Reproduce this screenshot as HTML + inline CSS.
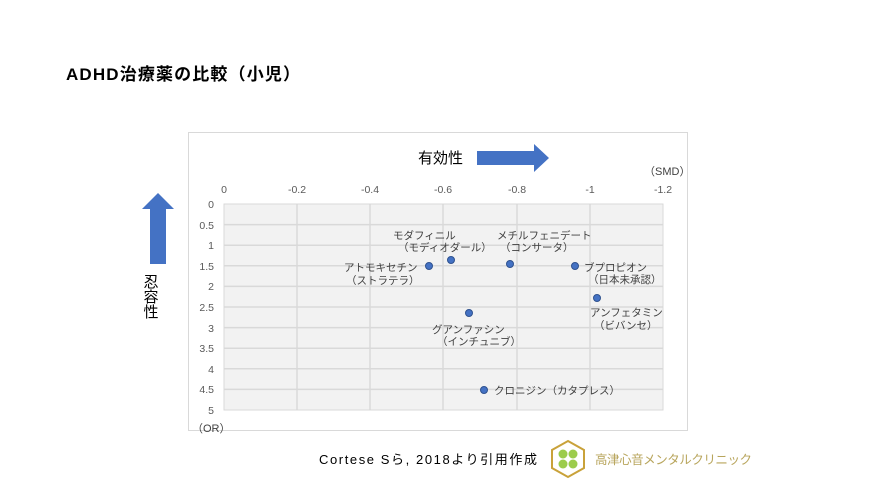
<!DOCTYPE html>
<html><head><meta charset="utf-8"><style>
body{margin:0;background:#fff;width:886px;height:498px;overflow:hidden}
svg text{font-family:"Liberation Sans","Noto Sans CJK JP",sans-serif}
</style></head><body>
<svg width="886" height="498" xmlns="http://www.w3.org/2000/svg">
<text x="66" y="80" font-size="17" font-weight="bold" fill="#000" textLength="234">ADHD治療薬の比較（小児）</text>
<rect x="188.5" y="132.5" width="499" height="298" fill="#fff" stroke="#d9d9d9"/>
<rect x="224" y="204" width="439" height="206" fill="#f2f2f2" stroke="#d9d9d9"/>
<g stroke="#d9d9d9" stroke-width="1.5">
<line x1="297" y1="204" x2="297" y2="410"/><line x1="370" y1="204" x2="370" y2="410"/>
<line x1="443" y1="204" x2="443" y2="410"/><line x1="517" y1="204" x2="517" y2="410"/>
<line x1="590" y1="204" x2="590" y2="410"/>
<line x1="224" y1="224.6" x2="663" y2="224.6"/><line x1="224" y1="245.2" x2="663" y2="245.2"/>
<line x1="224" y1="265.8" x2="663" y2="265.8"/><line x1="224" y1="286.4" x2="663" y2="286.4"/>
<line x1="224" y1="307" x2="663" y2="307"/><line x1="224" y1="327.6" x2="663" y2="327.6"/>
<line x1="224" y1="348.2" x2="663" y2="348.2"/><line x1="224" y1="368.8" x2="663" y2="368.8"/>
<line x1="224" y1="389.4" x2="663" y2="389.4"/>
</g>
<g font-size="10.5" fill="#595959" text-anchor="middle">
<text x="224" y="193">0</text><text x="297" y="193">-0.2</text><text x="370" y="193">-0.4</text>
<text x="443" y="193">-0.6</text><text x="517" y="193">-0.8</text><text x="590" y="193">-1</text><text x="663" y="193">-1.2</text>
</g>
<g font-size="10.5" fill="#595959" text-anchor="end">
<text x="214" y="208">0</text><text x="214" y="229">0.5</text><text x="214" y="249">1</text>
<text x="214" y="270">1.5</text><text x="214" y="290">2</text><text x="214" y="311">2.5</text>
<text x="214" y="332">3</text><text x="214" y="352">3.5</text><text x="214" y="373">4</text>
<text x="214" y="393">4.5</text><text x="214" y="414">5</text>
</g>
<text x="644" y="175" font-size="11" fill="#404040">（SMD）</text>
<text x="192" y="432" font-size="11" fill="#404040">（OR）</text>
<text x="418" y="163" font-size="15" fill="#000">有効性</text>
<polygon points="477,151 534,151 534,144 549,158 534,172 534,165 477,165" fill="#4472c4"/>
<polygon points="150,209 150,264 166,264 166,209 174,209 158,193 142,209" fill="#4472c4"/>
<text font-size="15" fill="#000" x="150" y="274" writing-mode="tb">忍容性</text>
<g fill="#4472c4" stroke="#2f528f" stroke-width="1">
<circle cx="429" cy="266" r="3.5"/><circle cx="451" cy="260" r="3.5"/><circle cx="510" cy="264" r="3.5"/>
<circle cx="575" cy="266" r="3.5"/><circle cx="597" cy="298" r="3.5"/><circle cx="469" cy="313" r="3.5"/>
<circle cx="484" cy="390" r="3.5"/>
</g>
<g font-size="10.5" fill="#404040">
<text x="393" y="239">モダフィニル</text><text x="398" y="251">（モディオダール）</text>
<text x="497" y="239">メチルフェニデート</text><text x="500" y="251">（コンサータ）</text>
<text x="344" y="271">アトモキセチン</text><text x="346" y="284">（ストラテラ）</text>
<text x="584" y="271">ブプロピオン</text><text x="588" y="283">（日本未承認）</text>
<text x="590" y="316">アンフェタミン</text><text x="594" y="329">（ビバンセ）</text>
<text x="432" y="333">グアンファシン</text><text x="437" y="345">（インチュニブ）</text>
<text x="494" y="394">クロニジン（カタプレス）</text>
</g>
<text x="319" y="464" font-size="13" fill="#000" textLength="218">Cortese Sら, 2018より引用作成</text>
<polygon points="568,441 584,450 584,468 568,477 552,468 552,450" fill="#fff" stroke="#c9a23a" stroke-width="2"/>
<g fill="#9ccc4c"><circle cx="563" cy="454" r="4.5"/><circle cx="573" cy="454" r="4.5"/><circle cx="563" cy="464" r="4.5"/><circle cx="573" cy="464" r="4.5"/></g>
<text x="595" y="464" font-size="12.5" fill="#b8a55c" textLength="157">高津心音メンタルクリニック</text>
</svg>
</body></html>
